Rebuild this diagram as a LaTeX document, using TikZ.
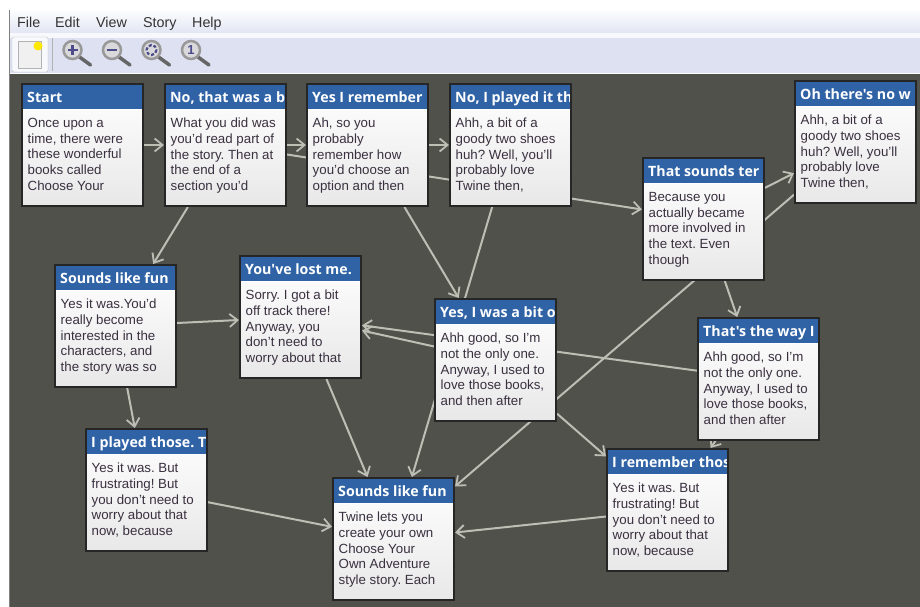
\documentclass[tikz,border=0pt]{standalone}
\usepackage{fontspec}
\setmainfont{Liberation Sans}
\newfontfamily\titlefont{Open Sans}
\usetikzlibrary{arrows.meta,calc}
\frenchspacing
\pgfdeclarelayer{canvas}
\pgfdeclarelayer{links}
\pgfsetlayers{canvas,links,main}
\definecolor{canvasgrey}{HTML}{50514B}
\definecolor{cardblue}{HTML}{3063A5}
\definecolor{linkgrey}{HTML}{BDBEB4}
\definecolor{bodyink}{HTML}{3A3040}
\definecolor{barlav}{HTML}{E2E6F4}
\definecolor{toollav}{HTML}{DDE1F1}
\tikzset{
  x=1pt,y=-1pt,
  cardbox/.style={rectangle,minimum width=121pt,minimum height=122pt,top color=white,bottom color=black!9,inner sep=0pt,outer sep=1pt},
  cardedge/.style={draw=black!85,line width=2pt},
  cardtitle/.style={anchor=base west,text=white,font=\titlefont\bfseries\fontsize{14.2}{16}\selectfont,inner sep=0pt},
  cardbody/.style={anchor=north west,align=left,text=bodyink,font=\fontsize{13.3}{15.7}\selectfont,inner sep=0pt},
  link/.style={draw=linkgrey,line width=2pt,-{Straight Barb[length=8pt,width=13pt,line width=1.8pt]}},
  menuitem/.style={anchor=base west,text=black!80,font=\fontsize{14.3}{16}\selectfont,inner sep=0pt},
  lensrim/.style={draw=black!40,line width=2.5pt,fill=blue!8!black!15},
  lenshandle/.style={draw=black!60,line width=3.5pt,line cap=round},
  lensmark/.style={draw=blue!35!black!70,line width=2.2pt}
}
% name, left, top, title, body
\newcommand{\storycard}[5]{%
  \node[cardbox] (#1) at (#2+60.5,#3+61) {};
  \begin{scope}
    \clip ($(#1.north west)$) rectangle ($(#1.north east)+(-2,26)$);
    \fill[cardblue] ($(#1.north west)$) rectangle ($(#1.north east)+(0,26)$);
    \node[cardtitle] (#1-title) at ($(#1.north west)+(6,19.5)$) {#4};
  \end{scope}
  \fill[cardblue] ($(#1.north east)+(-2,0)$) rectangle ($(#1.north east)+(-1,26)$);
  \draw[white,line width=.8pt] ($(#1.north west)+(0,26.4)$) -- ($(#1.north east)+(0,26.4)$);
  \draw[cardedge] ($(#1.north west)+(1,1)$) rectangle ($(#1.south east)+(-1,-1)$);
  \node[cardbody] (#1-body) at ($(#1.north west)+(6.5,35)$) {#5};
}
\newcommand{\lens}[3]{%
  \draw[lenshandle] (#1+7,#2+7) -- (#1+18,#2+15);
  \draw[lensrim] (#1,#2) circle[radius=9];
  #3
}
\begin{document}
\begin{tikzpicture}
\useasboundingbox (0,0) rectangle (920,607);
\begin{pgfonlayer}{canvas}
  \fill[white] (0,0) rectangle (920,607);
  \fill[top color=white,bottom color=barlav] (10,8) rectangle (920,33);
  \fill[white!70!barlav] (10,33) rectangle (920,38);
  \fill[toollav] (10,38) rectangle (920,73);
  \fill[canvasgrey] (10,74) rectangle (920,607);
  \draw[black!50,line width=1pt] (9.5,10) -- (9.5,607);
\end{pgfonlayer}
% menu
\node[menuitem] (mfile) at (17,27.5) {File};
\node[menuitem] (medit) at (55,27.5) {Edit};
\node[menuitem] (mview) at (96,27.5) {View};
\node[menuitem] (mstory) at (143,27.5) {Story};
\node[menuitem] (mhelp) at (192,27.5) {Help};
% toolbar
\draw[black!25,fill=white!75!barlav,rounded corners=1.5pt] (12,37) rectangle (48,72);
\draw[black!30,fill=black!6] (18,41) rectangle (41,68);
\fill[yellow!90!orange] (38,46) circle[radius=4.5];
\draw[black!30,line width=1.5pt] (52.5,38) -- (52.5,71);
\lens{72.5}{50}{\draw[lensmark] (67.5,50) -- (77.5,50) (72.5,45) -- (72.5,55);}
\lens{112}{50}{\draw[lensmark] (107,50) -- (117,50);}
\lens{151.5}{50}{\draw[lensmark,dash pattern=on 3pt off 2pt] (151.5,50) circle[radius=5];}
\lens{191}{50}{\node[text=blue!35!black!70,font=\bfseries\fontsize{13}{13}\selectfont,inner sep=0pt] (lensone) at (191,50) {1};}
% cards
\storycard{start}{22}{84}{Start}{Once upon a\\time, there were\\these wonderful\\books called\\Choose Your}
\storycard{nobit}{165}{84}{No, that was a b}{What you did was\\you'd read part of\\the story. Then at\\the end of a\\section you'd}
\storycard{yesrem}{307}{84}{Yes I remember}{Ah, so you\\probably\\remember how\\you'd choose an\\option and then}
\storycard{noplay}{450}{84}{No, I played it th}{Ahh, a bit of a\\goody two shoes\\huh? Well, you'll\\probably love\\Twine then,}
\storycard{terr}{643}{158}{That sounds ter}{Because you\\actually became\\more involved in\\the text. Even\\though}
\storycard{oh}{795}{81}{Oh there's no w}{Ahh, a bit of a\\goody two shoes\\huh? Well, you'll\\probably love\\Twine then,}
\storycard{funa}{55}{265}{Sounds like fun}{Yes it was.You'd\\really become\\interested in the\\characters, and\\the story was so}
\storycard{lost}{240}{256}{You've lost me.}{Sorry. I got a bit\\off track there!\\Anyway, you\\don't need to\\worry about that}
\storycard{yesbit}{435}{299}{Yes, I was a bit o}{Ahh good, so I'm\\not the only one.\\Anyway, I used to\\love those books,\\and then after}
\storycard{way}{698}{318}{That's the way I}{Ahh good, so I'm\\not the only one.\\Anyway, I used to\\love those books,\\and then after}
\storycard{played}{86}{429}{I played those. T}{Yes it was. But\\frustrating! But\\you don't need to\\worry about that\\now, because}
\storycard{funb}{333}{478}{Sounds like fun}{Twine lets you\\create your own\\Choose Your\\Own Adventure\\style story. Each}
\storycard{remthos}{607}{449}{I remember thos}{Yes it was. But\\frustrating! But\\you don't need to\\worry about that\\now, because}
% connectors
\begin{pgfonlayer}{links}
  \draw[link] (start) -- (nobit);
  \draw[link] (nobit) -- (yesrem);
  \draw[link] (yesrem) -- (noplay);
  \draw[link] (nobit) -- (funa);
  \draw[link] (nobit) -- (terr);
  \draw[link] (terr) -- (oh);
  \draw[link] (oh) -- (funb);
  \draw[link] (terr) -- (way);
  \draw[link] (funa) -- (lost);
  \draw[link] (funa) -- (played);
  \draw[link] (yesbit) -- (lost);
  \draw[link] (way) -- (lost);
  \draw[link] (lost) -- (funb);
  \draw[link] (noplay) -- (funb);
  \draw[link] (yesrem) -- (yesbit);
  \draw[link] (yesbit) -- (remthos);
  \draw[link] (way) -- (remthos);
  \draw[link] (played) -- (funb);
  \draw[link] (remthos) -- (funb);
\end{pgfonlayer}
\end{tikzpicture}
\end{document}
